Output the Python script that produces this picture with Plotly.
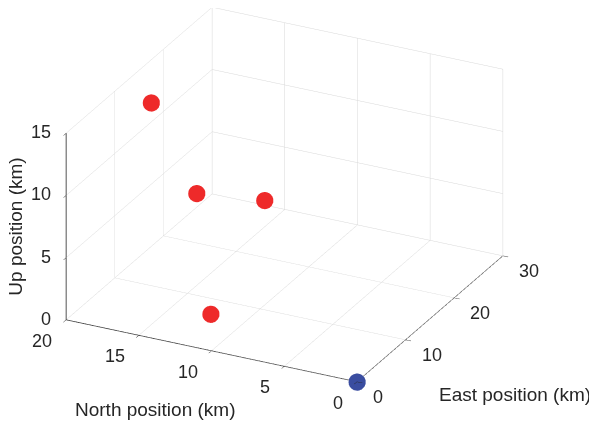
import plotly.graph_objects as go

# Data (km)
sensor_east = [0]
sensor_north = [0]
sensor_up = [0]

target_east = [10, 5, 10, 7]
target_north = [17.5, 12.7, 9.7, 12.4]
target_up = [14.7, 10.3, 8.8, 0]

east_ticks = [0, 10, 20, 30]
north_ticks = [0, 5, 10, 15, 20]
up_ticks = [0, 5, 10, 15]

font = "Liberation Sans, Arial, Helvetica, sans-serif"
grid = "#d8d8d8"
axcol = "#262626"

fig = go.Figure()
fig.add_trace(go.Scatter3d(
    x=target_east, y=target_north, z=target_up, mode="markers",
    marker=dict(size=10, color="#ee2a2a", line=dict(width=0)),
    showlegend=False, hoverinfo="skip"))
fig.add_trace(go.Scatter3d(
    x=sensor_east, y=sensor_north, z=sensor_up, mode="markers",
    marker=dict(size=10, color="#3a4da0", line=dict(width=0)),
    showlegend=False, hoverinfo="skip"))

def ax(rng, ticks):
    return dict(
        title=dict(text=""),
        range=rng, tickvals=ticks, showticklabels=False,
        autorange=False,
        showgrid=True, gridcolor=grid, gridwidth=1,
        zeroline=False, showbackground=False,
        showline=True, linecolor="#1a1a1a", linewidth=1.5,
        ticks="outside", ticklen=6, tickcolor=axcol,
        showspikes=False,
    )

title_font = dict(family=font, size=19, color=axcol)
tick_font = dict(family=font, size=18, color=axcol)

annotations = []
for n in north_ticks:
    annotations.append(dict(x=east_ticks[0], y=n, z=up_ticks[0], text=str(n),
                            showarrow=False, xanchor="right", yanchor="middle",
                            xshift=-12, yshift=-21, font=tick_font))
for e in east_ticks:
    annotations.append(dict(x=e, y=north_ticks[0], z=up_ticks[0], text=str(e),
                            showarrow=False, xanchor="left", yanchor="middle",
                            xshift=14, yshift=-15, font=tick_font))
for u in up_ticks:
    annotations.append(dict(x=east_ticks[0], y=north_ticks[-1], z=u, text=str(u),
                            showarrow=False, xanchor="right", yanchor="middle",
                            xshift=-13, yshift=1, font=tick_font))
annotations += [
    dict(x=15, y=0, z=0, text="East position (km)", showarrow=False,
         xanchor="right", xshift=163, yshift=-76, font=title_font),
    dict(x=0, y=10, z=0, text="North position (km)", showarrow=False,
         xshift=-56, yshift=-59, font=title_font),
    dict(x=0, y=20, z=7.5, text="Up position (km)", showarrow=False,
         textangle=-90, xshift=-51, font=title_font),
]

k = 1.69 / 1.09 * 1.017
d = 3.0
cx, cy, cz = -0.0012, -0.0971, -0.0933

fig.update_layout(
    width=589, height=416,
    margin=dict(l=0, r=0, t=0, b=0),
    paper_bgcolor="white",
    scene=dict(
        domain=dict(x=[0.0, 1.0], y=[0.0, 1.0]),
        xaxis=ax([0, 30], east_ticks),
        yaxis=ax([0, 20], north_ticks),
        zaxis=ax([0, 15], up_ticks),
        aspectmode="manual",
        aspectratio=dict(x=1 * k, y=0.99 * k, z=0.63 * k),
        camera=dict(
            projection=dict(type="orthographic"),
            eye=dict(x=-0.809 * d + cx, y=-0.402 * d + cy, z=0.4288 * d + cz),
            up=dict(x=0, y=0, z=1),
            center=dict(x=cx, y=cy, z=cz),
        ),
        bgcolor="white",
        annotations=annotations,
    ),
)

fig.write_html("out.html")
